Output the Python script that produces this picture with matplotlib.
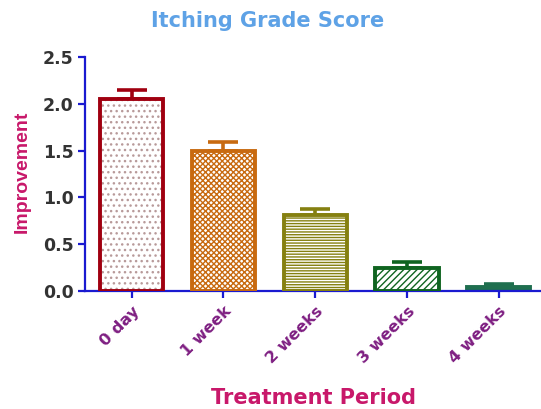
import numpy as np
import matplotlib
matplotlib.use("Agg")
import matplotlib.pyplot as plt

# ---------------------------
# DATA
# ---------------------------
periods = ["0 day", "1 week", "2 weeks", "3 weeks", "4 weeks"]
improvement = [2.05, 1.50, 0.81, 0.25, 0.05]
sem = [0.10, 0.09, 0.07, 0.06, 0.03]
y_ticks = [0.0, 0.5, 1.0, 1.5, 2.0, 2.5]

colors = ["#a00010", "#c86a10", "#858010", "#0f6420", "#1f6f4f"]
hatch_colors = ["#b89a9a", "#c86a10", "#858010", "#0f6420", "#1f6f4f"]
hatches = ["...", "xxxxxx", "------", "/////", None]

plt.rcParams["font.family"] = ["DejaVu Sans"]
plt.rcParams["hatch.linewidth"] = 1.0

fig = plt.figure(figsize=(5.41, 4.09), dpi=100)
ax = fig.add_axes([0.157, 0.288, 0.843, 0.573])

x = np.arange(len(periods))
width = 0.69

for i in range(len(periods)):
    # upper whisker only
    ax.errorbar(x[i], improvement[i], yerr=[[0], [sem[i]]], fmt="none",
                ecolor=colors[i], elinewidth=2.6, capsize=11, capthick=2.6,
                zorder=1)
    if hatches[i] is None:
        ax.bar(x[i], improvement[i], width, color=colors[i],
               edgecolor=colors[i], linewidth=2.8, zorder=2)
    else:
        ax.bar(x[i], improvement[i], width, color="white",
               edgecolor=hatch_colors[i], hatch=hatches[i], linewidth=0,
               zorder=2)
        ax.bar(x[i], improvement[i], width, color="none",
               edgecolor=colors[i], linewidth=2.8, zorder=3)

ax.set_xlim(-0.51, 4.46)
ax.set_ylim(0, 2.5)
ax.set_yticks(y_ticks)
ax.set_yticklabels([f"{v:.1f}" for v in y_ticks], fontsize=12.5,
                   fontweight="bold")
ax.set_xticks(x)
ax.set_xticklabels(periods, rotation=45, ha="right", rotation_mode="anchor",
                   fontsize=11.5, fontweight="bold")

for side in ["top", "right"]:
    ax.spines[side].set_visible(False)
for side in ["left", "bottom"]:
    ax.spines[side].set_color("#1a1ad0")
    ax.spines[side].set_linewidth(1.6)
ax.tick_params(axis="both", colors="#1a1ad0", width=1.6, length=5)
ax.tick_params(axis="y", labelcolor="#333333", pad=3)
ax.tick_params(axis="x", labelcolor="#7e1f82", pad=4)

fig.text(0.495, 0.949, "Itching Grade Score", ha="center", va="center",
         fontsize=15, fontweight="bold", color="#5ea2e6")
fig.text(0.042, 0.58, "Improvement", rotation=90, ha="center", va="center",
         fontsize=14, fontweight="bold", color="#c8186a",
         family=["Liberation Sans", "DejaVu Sans"])
fig.text(0.579, 0.027, "Treatment Period", ha="center", va="center",
         fontsize=15, fontweight="bold", color="#c8186a")

fig.savefig("out.png", dpi=100)
